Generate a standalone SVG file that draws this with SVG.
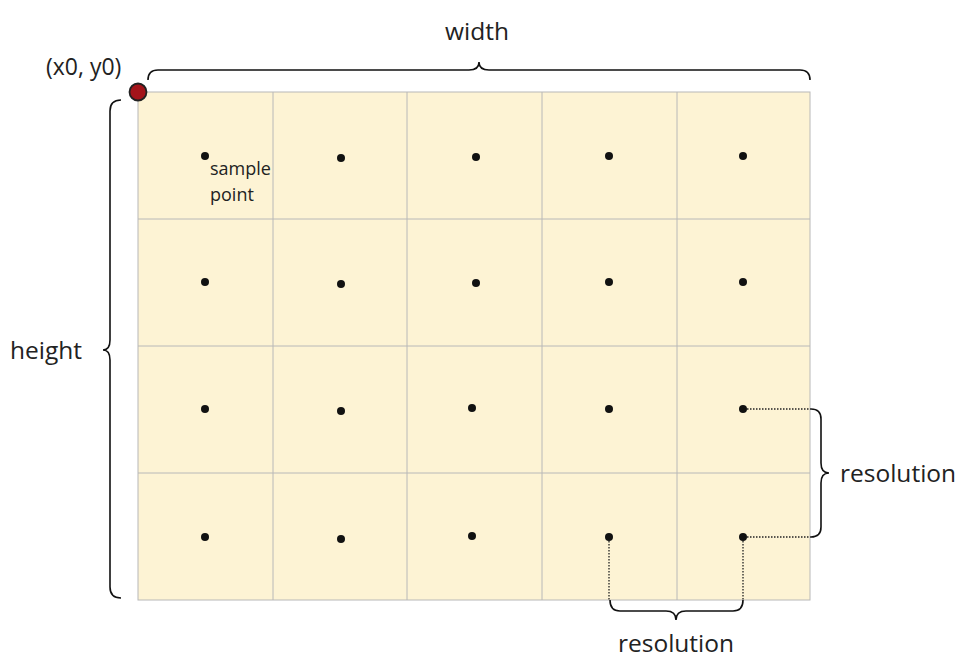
<svg xmlns="http://www.w3.org/2000/svg" width="975" height="672" viewBox="0 0 975 672">
<style>
.cell{fill:#fdf3d4;stroke:#b8b8b8;stroke-width:1}
.dot{fill:#111}
.br{fill:none;stroke:#111;stroke-width:1.6}
.dt{fill:none;stroke:#222;stroke-width:1.3;stroke-dasharray:1.5 1.5}
text{font-family:"Open Sans","Noto Sans",sans-serif;fill:#222}
.lbl{font-size:24.5px}
.org{font-size:23px}
.sm{font-size:18px}
</style>
<rect width="975" height="672" fill="#fff"/>
<g id="grid">
<rect class="cell" x="138" y="92" width="672" height="508"/>
<path d="M273,92V600M407,92V600M542,92V600M677,92V600M138,219H810M138,346H810M138,473H810" stroke="#b8b8b8" stroke-width="1"/>
</g>
<g id="points">
<circle class="dot" cx="205" cy="156" r="4"/><circle class="dot" cx="341" cy="158" r="4"/><circle class="dot" cx="476" cy="157" r="4"/><circle class="dot" cx="609" cy="156" r="4"/><circle class="dot" cx="743" cy="156" r="4"/>
<circle class="dot" cx="205" cy="282" r="4"/><circle class="dot" cx="341" cy="284" r="4"/><circle class="dot" cx="476" cy="283" r="4"/><circle class="dot" cx="609" cy="282" r="4"/><circle class="dot" cx="743" cy="282" r="4"/>
<circle class="dot" cx="205" cy="409" r="4"/><circle class="dot" cx="341" cy="411" r="4"/><circle class="dot" cx="472" cy="408" r="4"/><circle class="dot" cx="609" cy="409" r="4"/><circle class="dot" cx="743" cy="409" r="4"/>
<circle class="dot" cx="205" cy="537" r="4"/><circle class="dot" cx="341" cy="539" r="4"/><circle class="dot" cx="472" cy="536" r="4"/><circle class="dot" cx="609" cy="537" r="4"/><circle class="dot" cx="743" cy="537" r="4"/>
</g>
<g id="origin"><circle cx="138" cy="92" r="8.5" fill="#a3141a" stroke="#222" stroke-width="1.8"/><text class="org" x="46" y="75">(x0, y0)</text></g>
<g id="connectors">
<path class="br" d="M148,80Q148,70 158,70L469,70Q479,70 479,62Q479,70 489,70L800,70Q810,70 810,80"/>
<path class="br" d="M121,100Q110,100 110,111L110,340Q110,350 103,350Q110,350 110,360L110,587Q110,598 121,598"/>
<path class="br" d="M811,409Q821,409 821,419L821,463Q821,473 829,473Q821,473 821,483L821,527Q821,537 811,537"/>
<path class="br" d="M610,600Q610,611 620,611L666,611Q676,611 676,620Q676,611 686,611L733,611Q743,611 743,600"/>
<path class="dt" d="M747,409H811M747,537H811M609,541V600M743,541V600"/>
</g>
<g id="labels">
<text class="lbl" x="477" y="40" text-anchor="middle">width</text>
<text class="lbl" x="10" y="359">height</text>
<text class="lbl" x="840" y="482">resolution</text>
<text class="lbl" x="676" y="652" text-anchor="middle">resolution</text>
<text class="sm" x="210" y="175">sample</text>
<text class="sm" x="210" y="201">point</text>
</g>
</svg>
